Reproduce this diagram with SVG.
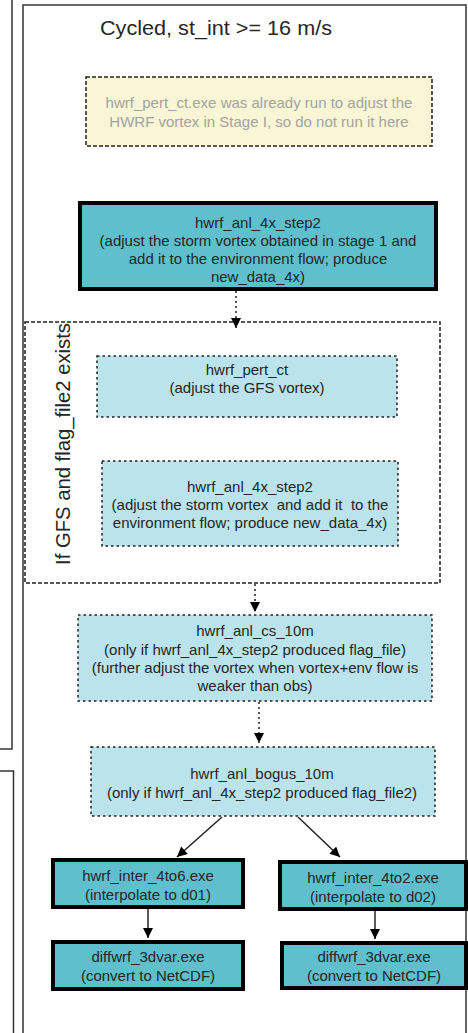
<svg xmlns="http://www.w3.org/2000/svg" width="468" height="1033" viewBox="0 0 468 1033">
<style>
text{font-family:"Liberation Sans",Arial,sans-serif;font-size:15px;fill:#262626;text-anchor:middle}
.frame{fill:none;stroke:#333;stroke-width:1.5}
.thick{fill:#5fbfcd;stroke:#000;stroke-width:4}
.dot{fill:#bae3eb;stroke:#222;stroke-width:1.5;stroke-dasharray:2.5 3}
.yel{fill:#f8f6d4;stroke:#222;stroke-width:1.5;stroke-dasharray:4 2}
.grp{fill:#fff;stroke:#222;stroke-width:1.5;stroke-dasharray:4 2}
.gray{fill:#a3a3a3}
.pre{white-space:pre}
.conn{stroke:#222;stroke-width:1.5;fill:none}
.dotted{stroke-dasharray:2 3}
</style>
<defs>
<marker id="ahb" viewBox="0 0 10 10" refX="10" refY="5" markerWidth="14" markerHeight="10" markerUnits="userSpaceOnUse" orient="auto">
<path d="M0,0 L10,5 L0,10 z" fill="#000"/>
</marker>
</defs>
<rect width="468" height="1033" fill="#fff"/>
<g id="frames">
<path class="frame" d="M0,749 H12 V-2"/>
<path class="frame" d="M0,771 H13.5 V1035"/>
<path class="frame" d="M23,1035 V5 H466 V1035"/>
</g>
<g id="title"><text x="216" y="35" style="font-size:21px" textLength="232" lengthAdjust="spacingAndGlyphs">Cycled, st_int &gt;= 16 m/s</text></g>
<g id="note">
<rect class="yel" x="86" y="77" width="346" height="69"/>
<text class="gray" x="259" y="108">hwrf_pert_ct.exe was already run to adjust the</text>
<text class="gray" x="259" y="127">HWRF vortex in Stage I, so do not run it here</text>
</g>
<g id="step2">
<rect class="thick" x="80" y="203" width="356" height="86"/>
<text x="258" y="228">hwrf_anl_4x_step2</text>
<text x="258" y="246">(adjust the storm vortex obtained in stage 1 and</text>
<text x="258" y="264">add it to the environment flow; produce</text>
<text x="258" y="282">new_data_4x)</text>
</g>
<g id="group">
<rect class="grp" x="25" y="322" width="415" height="261"/>
<text transform="translate(70,444) rotate(-90)" style="font-size:20px" textLength="242" lengthAdjust="spacingAndGlyphs">If GFS and flag_file2 exists</text>
</g>
<g id="pert_ct">
<rect class="dot" x="97" y="356" width="300" height="61"/>
<text x="247" y="375">hwrf_pert_ct</text>
<text x="247" y="393">(adjust the GFS vortex)</text>
</g>
<g id="step2_inner">
<rect class="dot" x="102" y="461" width="296" height="85"/>
<text x="250" y="492">hwrf_anl_4x_step2</text>
<text class="pre" x="250" y="510">(adjust the storm vortex  and add it  to the</text>
<text x="250" y="528">environment flow; produce new_data_4x)</text>
</g>
<g id="cs_10m">
<rect class="dot" x="78" y="615" width="354" height="86"/>
<text x="255" y="636">hwrf_anl_cs_10m</text>
<text x="255" y="655">(only if hwrf_anl_4x_step2 produced flag_file)</text>
<text x="255" y="673">(further adjust the vortex when vortex+env flow is</text>
<text x="255" y="691">weaker than obs)</text>
</g>
<g id="bogus">
<rect class="dot" x="91" y="747" width="344" height="69"/>
<text x="262" y="779">hwrf_anl_bogus_10m</text>
<text x="262" y="798">(only if hwrf_anl_4x_step2 produced flag_file2)</text>
</g>
<g id="inter_4to6">
<rect class="thick" x="53" y="860" width="190" height="47"/>
<text x="148" y="881">hwrf_inter_4to6.exe</text>
<text x="148" y="900">(interpolate to d01)</text>
</g>
<g id="inter_4to2">
<rect class="thick" x="280" y="862" width="186" height="47"/>
<text x="373" y="883">hwrf_inter_4to2.exe</text>
<text x="373" y="902">(interpolate to d02)</text>
</g>
<g id="diff_left">
<rect class="thick" x="53" y="942" width="190" height="47"/>
<text x="148" y="962">diffwrf_3dvar.exe</text>
<text x="148" y="981">(convert to NetCDF)</text>
</g>
<g id="diff_right">
<rect class="thick" x="282" y="943" width="184" height="45"/>
<text x="374" y="962">diffwrf_3dvar.exe</text>
<text x="374" y="981">(convert to NetCDF)</text>
</g>
<g id="connectors">
<line class="conn dotted" x1="236" y1="291" x2="236" y2="328" marker-end="url(#ahb)"/>
<line class="conn dotted" x1="255" y1="584" x2="255" y2="612" marker-end="url(#ahb)"/>
<line class="conn dotted" x1="259" y1="702" x2="259" y2="743" marker-end="url(#ahb)"/>
<line class="conn" x1="222" y1="817" x2="177" y2="857" marker-end="url(#ahb)"/>
<line class="conn" x1="298" y1="817" x2="340" y2="857" marker-end="url(#ahb)"/>
<line class="conn" x1="148" y1="909" x2="148" y2="938" marker-end="url(#ahb)"/>
<line class="conn" x1="375" y1="911" x2="375" y2="939" marker-end="url(#ahb)"/>
</g>
</svg>
